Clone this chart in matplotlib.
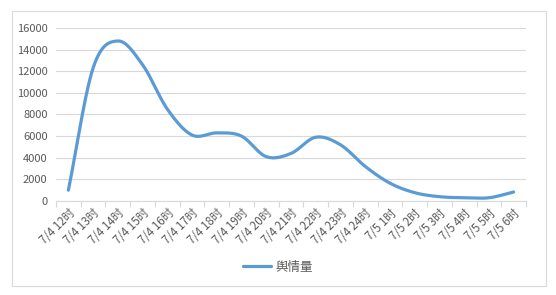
import numpy as np
import matplotlib
matplotlib.use("Agg")
import matplotlib.pyplot as plt
from matplotlib.patches import Rectangle

plt.rcParams['font.family'] = ['Noto Sans CJK SC', 'DejaVu Sans']

categories = ["7/4 12时", "7/4 13时", "7/4 14时", "7/4 15时", "7/4 16时", "7/4 17时",
              "7/4 18时", "7/4 19时", "7/4 20时", "7/4 21时", "7/4 22时", "7/4 23时",
              "7/4 24时", "7/5 1时", "7/5 2时", "7/5 3时", "7/5 4时", "7/5 5时", "7/5 6时"]
values = [1000, 12300, 14800, 12600, 8500, 6100, 6300, 6000, 4100, 4400, 5900, 5200,
          3200, 1650, 770, 400, 300, 300, 830]
series_name = "舆情量"
yticks = [0, 2000, 4000, 6000, 8000, 10000, 12000, 14000, 16000]

LINE = "#5B9BD5"
TXT = "#595959"
GRID = "#D9D9D9"


def smooth(x, y, n=30):
    # Catmull-Rom style smoothing similar to Excel's smoothed line
    x = np.asarray(x, float); y = np.asarray(y, float)
    px = np.concatenate([[2 * x[0] - x[1]], x, [2 * x[-1] - x[-2]]])
    py = np.concatenate([[2 * y[0] - y[1]], y, [2 * y[-1] - y[-2]]])
    xs, ys = [], []
    for i in range(1, len(px) - 2):
        p0, p1, p2, p3 = [np.array([px[j], py[j]]) for j in (i - 1, i, i + 1, i + 2)]
        c1 = p1 + (p2 - p0) / 6.0
        c2 = p2 - (p3 - p1) / 6.0
        t = np.linspace(0, 1, n)[:, None]
        b = ((1 - t) ** 3) * p1 + 3 * ((1 - t) ** 2) * t * c1 + 3 * (1 - t) * t ** 2 * c2 + t ** 3 * p2
        xs.append(b[:, 0]); ys.append(b[:, 1])
    return np.concatenate(xs), np.concatenate(ys)


fig = plt.figure(figsize=(5.56, 2.95), dpi=100)
fig.patches.append(Rectangle((12 / 556, 1 - 286 / 295), (546 - 12) / 556, (286 - 11) / 295,
                             transform=fig.transFigure, fill=False, edgecolor=GRID, lw=0.8))

ax = fig.add_axes([56 / 556, 1 - 201 / 295, (526 - 56) / 556, (201 - 28) / 295])
x = np.arange(len(categories))
sx, sy = smooth(x, values)
ax.plot(sx, sy, color=LINE, lw=2.3, solid_capstyle='round', label=series_name)

ax.set_xlim(-0.5, len(categories) - 0.5)
ax.set_ylim(0, 16000)
ax.set_yticks(yticks)
ax.set_yticklabels([str(v) for v in yticks], fontsize=8, color=TXT)
ax.yaxis.grid(True, color=GRID, lw=0.8)
ax.set_axisbelow(True)
for s in ['top', 'right', 'left']:
    ax.spines[s].set_visible(False)
ax.spines['bottom'].set_color(GRID)
ax.tick_params(axis='y', length=0, pad=6)

ax.set_xticks(x)
ax.set_xticklabels(categories, rotation=45, ha='right', rotation_mode='anchor',
                   fontsize=8.3, color=TXT)
ax.tick_params(axis='x', which='major', length=0, pad=4)
ax.set_xticks(np.arange(-0.5, len(categories)), minor=True)
ax.tick_params(axis='x', which='minor', length=4, color=GRID, width=0.8)

leg = fig.legend(loc='center', bbox_to_anchor=(278 / 556, 1 - 267 / 295), frameon=False,
                 fontsize=9, handlelength=2.2, handletextpad=0.4)
for t in leg.get_texts():
    t.set_color(TXT)

fig.savefig("out.png", dpi=100)
